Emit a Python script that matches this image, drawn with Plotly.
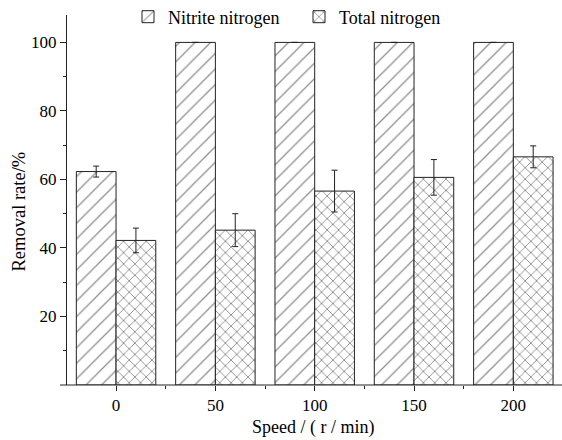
import plotly.graph_objects as go

speeds = [0, 50, 100, 150, 200]
nitrite = [62.3, 100, 100, 100, 100]
nitrite_err = [1.6, 0, 0, 0, 0]
total_n = [42.2, 45.2, 56.6, 60.6, 66.6]
total_err = [3.6, 4.8, 6.1, 5.2, 3.2]

FONT = "'Liberation Serif', 'Times New Roman', Times, serif"
W, H = 562, 440
L, R, T, B = 67, 0, 15, 55
pw, ph = W - L - R, H - T - B

def px(x):
    return (x - L) / pw

def py(y):
    return (H - B - y) / ph

INK = "#222222"

fig = go.Figure()
fig.add_trace(go.Bar(
    x=speeds, y=nitrite, name="Nitrite nitrogen",
    marker=dict(color="white", line=dict(color=INK, width=1),
                pattern=dict(shape="/", size=11, solidity=0.12, fgcolor=INK, bgcolor="white")),
    error_y=dict(type="data", array=nitrite_err, color=INK, thickness=1, width=3),
))
fig.add_trace(go.Bar(
    x=speeds, y=total_n, name="Total nitrogen",
    marker=dict(color="white", line=dict(color=INK, width=1),
                pattern=dict(shape="x", size=8, solidity=0.22, fgcolor=INK, bgcolor="white")),
    error_y=dict(type="data", array=total_err, color=INK, thickness=1, width=3),
))

fig.update_layout(
    width=W, height=H,
    margin=dict(l=L, r=R, t=T, b=B, autoexpand=False),
    paper_bgcolor="white", plot_bgcolor="white",
    barmode="group", bargap=0.2, bargroupgap=0,
    font=dict(family=FONT, size=18, color="black"),
    showlegend=True,
    legend=dict(orientation="h", x=px(128), xanchor="left", y=py(17), yanchor="middle",
                bgcolor="rgba(0,0,0,0)", font=dict(family=FONT, size=18), itemwidth=30,
                entrywidth=126, entrywidthmode="pixels", tracegroupgap=0),
    xaxis=dict(range=[-24.7, 224.5], tickvals=speeds, ticks="outside", ticklen=5,
               tickcolor=INK, showline=False, showgrid=False, zeroline=False,
               minor=dict(tickvals=[25, 75, 125, 175], ticks="outside", ticklen=3, tickcolor=INK),
               tickfont=dict(family=FONT, size=17)),
    yaxis=dict(range=[0, 108], tickvals=[20, 40, 60, 80, 100], ticks="outside", ticklen=6,
               tickcolor=INK, showline=True, linecolor=INK, linewidth=1,
               showgrid=False, zeroline=False,
               minor=dict(tickvals=[10, 30, 50, 70, 90], ticks="outside", ticklen=3, tickcolor=INK),
               tickfont=dict(family=FONT, size=17)),
)

# x axis baseline extending slightly left of the y axis
fig.add_shape(type="line", xref="paper", yref="paper", x0=px(60), x1=1, y0=0, y1=0,
              line=dict(color=INK, width=1))

fig.add_annotation(text="Removal rate/%", xref="paper", yref="paper", x=px(18.5), y=py(212),
                   textangle=-90, showarrow=False, font=dict(family=FONT, size=18.5),
                   xanchor="center", yanchor="middle")
fig.add_annotation(text="Speed / ( r / min)", xref="paper", yref="paper", x=px(313), y=py(427),
                   showarrow=False, font=dict(family=FONT, size=18),
                   xanchor="center", yanchor="middle")

fig.write_html("out.html", config={"displayModeBar": False},
               post_script="document.body.style.margin='0';document.body.style.overflow='hidden';")
